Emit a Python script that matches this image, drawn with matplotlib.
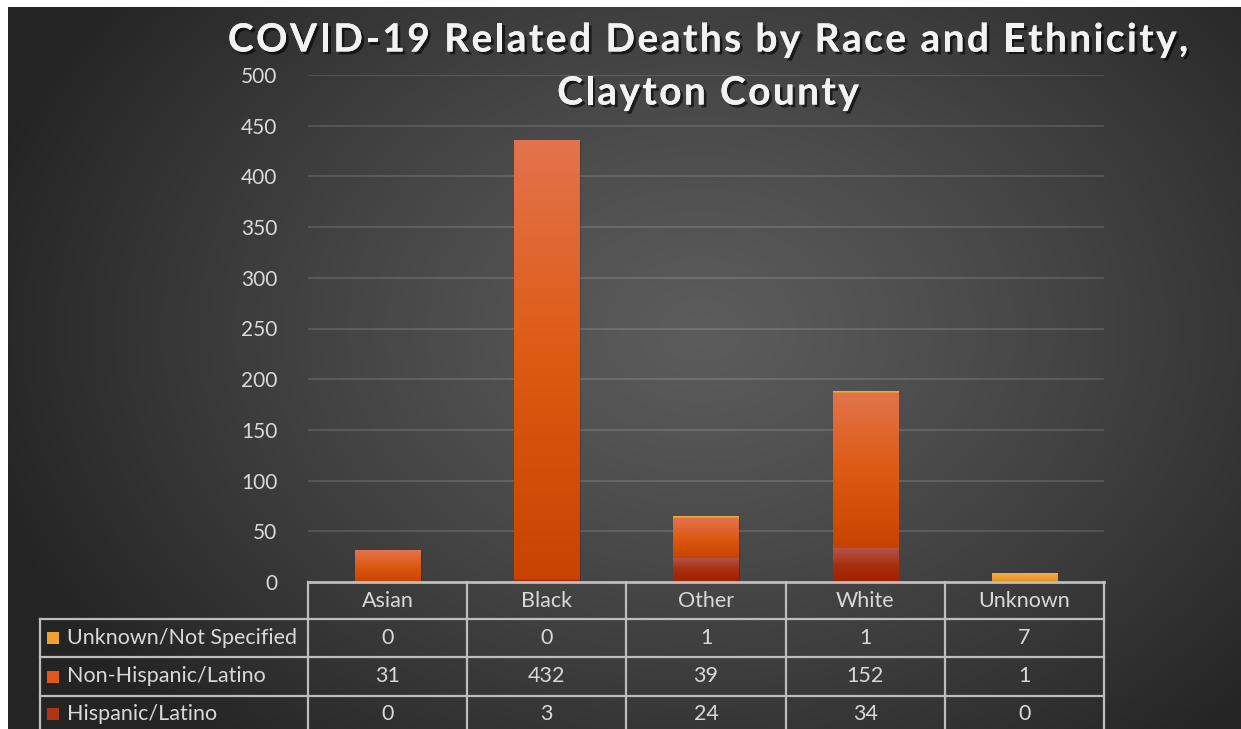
import numpy as np
import matplotlib
matplotlib.use("Agg")
import matplotlib.pyplot as plt
import matplotlib.patheffects as pe
from matplotlib.colors import LinearSegmentedColormap
from matplotlib.transforms import blended_transform_factory
from matplotlib.patches import Rectangle

# Data
categories = ["Asian", "Black", "Other", "White", "Unknown"]
hispanic = [0, 3, 24, 34, 0]
non_hispanic = [31, 432, 39, 152, 1]
unknown = [0, 0, 1, 1, 7]

series_names = ["Unknown/Not Specified", "Non-Hispanic/Latino", "Hispanic/Latino"]
series_values = [unknown, non_hispanic, hispanic]
y_ticks = [0, 50, 100, 150, 200, 250, 300, 350, 400, 450, 500]
title_lines = ["COVID-19 Related Deaths by Race and Ethnicity,", "Clayton County"]

# Styles
FONT = "Lato"
TXT = "#d9d9d9"
LINE = "#bdbdbd"
grad = {
    "Hispanic/Latino": ["#b4564e", "#a83010", "#a02000"],
    "Non-Hispanic/Latino": ["#e3734d", "#dd5a12", "#c94300"],
    "Unknown/Not Specified": ["#f2b04a", "#eea030", "#e89020"],
}
keys = {"Unknown/Not Specified": "#f0a030",
        "Non-Hispanic/Latino": "#e0581a",
        "Hispanic/Latino": "#b03418"}

W, H = 1241, 729
fig = plt.figure(figsize=(W / 100, H / 100), dpi=100)
fig.patch.set_facecolor("white")

# radial dark background
bg = fig.add_axes([8 / W, 0, (W - 8) / W, (H - 7) / H])
bg.set_axis_off()
yy, xx = np.mgrid[7:H, 8:W]
r = np.sqrt(((xx - 700) / 720.0) ** 2 + ((yy - 330) / 540.0) ** 2)
val = np.clip(0.36 - 0.21 * r ** 1.2, 0.145, 1)
bg.imshow(np.dstack([val, val, val]), aspect="auto", interpolation="bilinear")

ax = fig.add_axes([308 / W, (H - 582) / H, 796 / W, 507 / H])
ax.patch.set_alpha(0)
ax.set_xlim(-0.5, 4.5)
ax.set_ylim(0, 500)
for s in ax.spines.values():
    s.set_visible(False)
ax.set_xticks([])
ax.set_yticks(y_ticks)
ax.tick_params(axis="y", length=0, pad=22, labelcolor=TXT, labelsize=15)
for lab in ax.get_yticklabels():
    lab.set_fontfamily(FONT)
for t in y_ticks[1:]:
    ax.axhline(t, color="white", alpha=0.14, lw=1.3, zorder=1)

# stacked bars with vertical gradients
bw = 0.41
bottom = np.zeros(len(categories))
for name, vals in [("Hispanic/Latino", hispanic),
                   ("Non-Hispanic/Latino", non_hispanic),
                   ("Unknown/Not Specified", unknown)]:
    cmap = LinearSegmentedColormap.from_list(name, grad[name][::-1])
    g = np.linspace(0, 1, 256).reshape(-1, 1)
    for i, v in enumerate(vals):
        if v <= 0:
            continue
        b = bottom[i]
        ax.imshow(g, cmap=cmap, origin="lower", aspect="auto",
                  extent=[i - bw / 2, i + bw / 2, b, b + v], zorder=3)
        bottom[i] += v
ax.set_xlim(-0.5, 4.5)
ax.set_ylim(0, 500)
# soft shadows
for i, tot in enumerate(bottom):
    ax.add_patch(Rectangle((i - bw / 2 + 0.008, 0), bw, tot - 1.0,
                           facecolor="black", alpha=0.18, lw=0, zorder=2))

# data table
tr = blended_transform_factory(ax.transData, fig.transFigure)
def fy(px):
    return (H - px) / H

left = -0.5 - (308 - 40) / (796 / 5)
rows = [582, 619, 657, 696, 740]
ax.plot([-0.5, 4.5], [fy(582)] * 2, color=LINE, lw=2, transform=tr, clip_on=False, zorder=5)
for yp in rows[1:-1]:
    ax.plot([left, 4.5], [fy(yp)] * 2, color=LINE, lw=1.6, transform=tr, clip_on=False)
for k in range(6):
    ax.plot([k - 0.5] * 2, [fy(582), fy(740)], color=LINE, lw=1.6, transform=tr, clip_on=False)
ax.plot([left] * 2, [fy(619), fy(740)], color=LINE, lw=1.6, transform=tr, clip_on=False)

for i, c in enumerate(categories):
    ax.text(i, fy(601), c, ha="center", va="center", color=TXT, fontsize=15.5,
            family=FONT, transform=tr)

fx = lambda px: -0.5 + (px - 308) / (796 / 5)
for j, name in enumerate(series_names):
    yc = (rows[j + 1] + rows[j + 2]) / 2 if j < 2 else 714
    for i, v in enumerate(series_values[j]):
        ax.text(i, fy(yc), str(v), ha="center", va="center", color=TXT,
                fontsize=15.5, family=FONT, transform=tr)
    ax.add_patch(Rectangle((fx(47), fy(yc + 6)), fx(59) - fx(47), fy(yc - 6) - fy(yc + 6),
                           facecolor=keys[name], lw=0, transform=tr, clip_on=False))
    ax.text(fx(67), fy(yc), name, ha="left", va="center", color=TXT,
            fontsize=15.5, family=FONT, transform=tr)

# title, drawn char by char to get the wide letter spacing
shadow = [pe.withSimplePatchShadow(offset=(2, -2), shadow_rgbFace="black", alpha=0.6),
          pe.Normal()]
renderer = fig.canvas.get_renderer()
track = 2.4
tkw = dict(color="#f2f2f2", fontsize=28, fontweight="bold", family=FONT, va="center")

def char_w(ch):
    t = fig.text(0, 0, "x" + ch + "x", **tkw)
    t2 = fig.text(0, 0, "xx", **tkw)
    w = t.get_window_extent(renderer).width - t2.get_window_extent(renderer).width
    t.remove()
    t2.remove()
    return w

for txt, yp in zip(title_lines, [40, 93]):
    widths = [char_w(ch) for ch in txt]
    total = sum(widths) + track * (len(txt) - 1)
    x = 708 - total / 2
    for ch, w in zip(txt, widths):
        if ch != " ":
            fig.text(x / W, fy(yp), ch, ha="left", path_effects=shadow, **tkw)
        x += w + track

fig.savefig("out.png", dpi=100)
